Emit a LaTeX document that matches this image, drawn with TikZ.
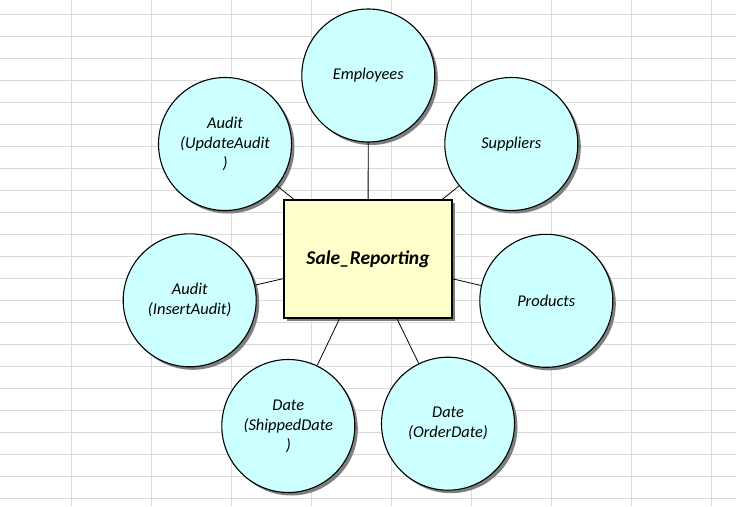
\documentclass[tikz,border=0pt]{standalone}
\usepackage{fontspec}
\setmainfont{Carlito}
\usetikzlibrary{shadows}
\definecolor{entfill}{HTML}{CCFFFF}
\definecolor{factfill}{HTML}{FFFFCC}
\definecolor{gridgray}{HTML}{DADADA}
\definecolor{shadowgray}{HTML}{7F7F7F}
\begin{document}
\begin{tikzpicture}[x=1pt,y=-1pt,
  gridline/.style={draw=gridgray,line width=0.9pt},
  ent/.style={circle,draw=black,line width=1.1pt,fill=entfill,minimum size=133pt,inner sep=0pt,
    align=center,font=\fontsize{16.4}{20}\selectfont\itshape,
    drop shadow={shadow xshift=3pt,shadow yshift=-3pt,fill=shadowgray,opacity=1}},
  fact/.style={rectangle,draw=black,line width=1.1pt,fill=factfill,minimum width=168pt,minimum height=118pt,
    inner sep=0pt,font=\fontsize{19.5}{22}\selectfont\bfseries\itshape,
    drop shadow={shadow xshift=3pt,shadow yshift=-3pt,fill=shadowgray,opacity=1}},
  link/.style={draw=black,line width=0.8pt}]
\useasboundingbox (0,0) rectangle (736,506);
\fill[white] (0,0) rectangle (736,506);
\foreach \k in {0,...,22} {\draw[gridline] (0,14.3+22*\k) -- (736,14.3+22*\k);}
\foreach \k in {0,...,8} {\draw[gridline] (71.7+80*\k,0) -- (71.7+80*\k,506);}
\node[fact] (sr) at (368,259) {Sale\_Reporting};
\node[ent] (emp) at (368.3,75.5) {Employees};
\node[ent] (sup) at (511.3,144) {Suppliers};
\node[ent] (prod) at (546.3,300.8) {Products};
\node[ent] (ord) at (448,423.7) {Date\\(OrderDate)};
\node[ent] (ship) at (288.3,426) {Date\\(ShippedDate\\)};
\node[ent] (ins) at (189.7,300.3) {Audit\\(InsertAudit)};
\node[ent] (upd) at (225,144) {Audit\\(UpdateAudit\\)};
\foreach \n in {emp,sup,prod,ord,ship,ins,upd} {\draw[link] (sr) -- (\n);}
\end{tikzpicture}
\end{document}
